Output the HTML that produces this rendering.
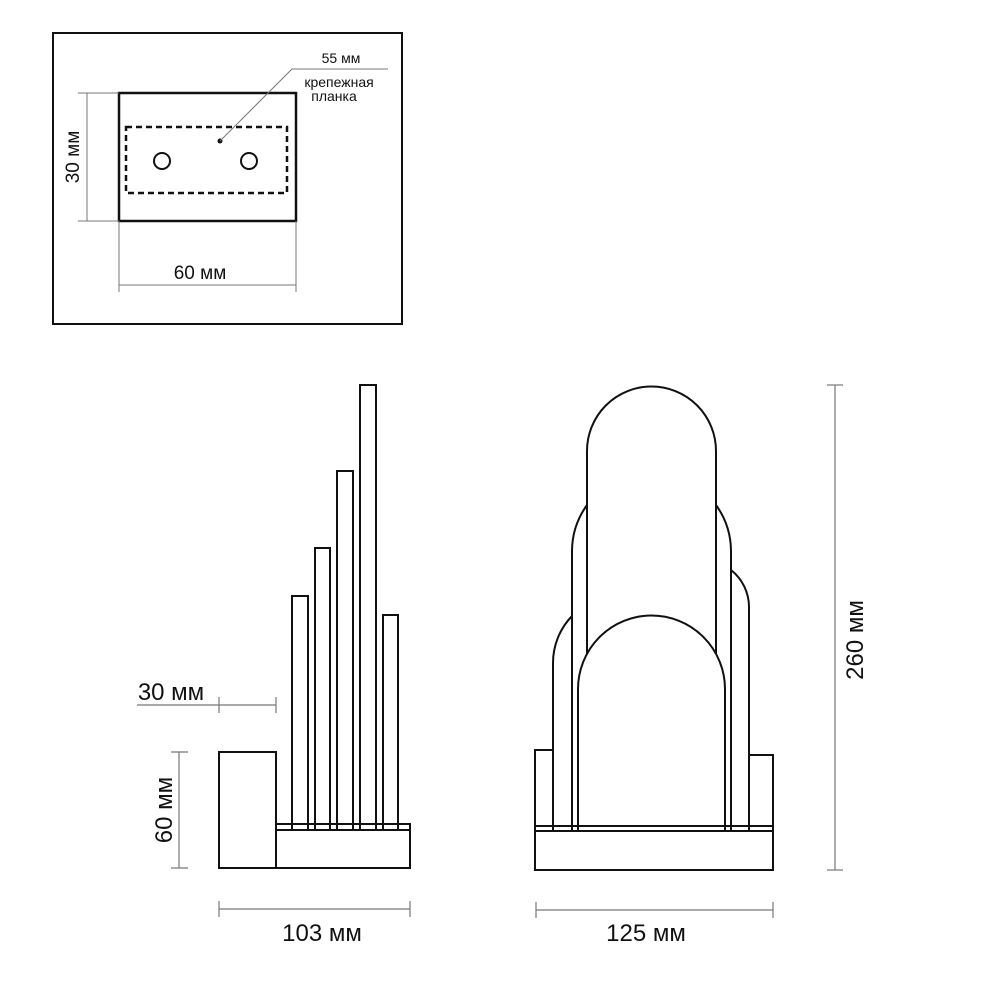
<!DOCTYPE html>
<html><head><meta charset="utf-8"><style>
html,body{margin:0;padding:0;background:#fff;}
svg{display:block;}
text{font-family:"Liberation Sans",sans-serif;fill:#111;}
</style></head><body>
<svg width="1000" height="1000" viewBox="0 0 1000 1000" xmlns="http://www.w3.org/2000/svg">
<g fill="none" stroke="#111" stroke-width="2">
<rect x="53" y="33" width="349" height="291"/>
<rect x="119" y="93" width="177" height="128" stroke-width="2.5"/>
<rect x="126" y="127" width="161" height="66" stroke-dasharray="6,4" stroke-width="2.5"/>
<circle cx="162" cy="161" r="8"/>
<circle cx="249" cy="161" r="8"/>
</g>
<circle cx="220" cy="141" r="2.5" fill="#111"/>
<g stroke="#777" stroke-width="1" fill="none">
<polyline points="220,141 292,69 388,69"/>
<line x1="87" y1="93" x2="87" y2="221"/>
<line x1="78" y1="93" x2="119" y2="93"/>
<line x1="78" y1="221" x2="119" y2="221"/>
<line x1="119" y1="221" x2="119" y2="292"/>
<line x1="296" y1="221" x2="296" y2="292"/>
<line x1="119" y1="285" x2="296" y2="285"/>
</g>
<text x="341" y="63" font-size="14" text-anchor="middle">55 мм</text>
<text x="339" y="87" font-size="14" text-anchor="middle">крепежная</text>
<text x="334" y="101" font-size="14" text-anchor="middle">планка</text>
<text x="200" y="279" font-size="19" text-anchor="middle">60 мм</text>
<text transform="translate(79,157) rotate(-90)" font-size="19" text-anchor="middle">30 мм</text>

<!-- side view -->
<g fill="none" stroke="#111" stroke-width="2">
<rect x="219" y="752" width="57" height="116"/>
<rect x="276" y="824" width="134" height="44"/>
<line x1="276" y1="830" x2="410" y2="830"/>
<rect x="292" y="596" width="16" height="234"/>
<rect x="315" y="548" width="15" height="282"/>
<rect x="337" y="471" width="16" height="359"/>
<rect x="360" y="385" width="16" height="445"/>
<rect x="383" y="615" width="15" height="215"/>
</g>
<g stroke="#777" stroke-width="1.2" fill="none">
<line x1="137" y1="705" x2="276" y2="705"/>
<line x1="219" y1="697" x2="219" y2="713"/>
<line x1="276" y1="697" x2="276" y2="713"/>
<line x1="179" y1="752" x2="179" y2="868"/>
<line x1="171" y1="752" x2="188" y2="752"/>
<line x1="171" y1="868" x2="188" y2="868"/>
<line x1="219" y1="909" x2="410" y2="909"/>
<line x1="219" y1="901" x2="219" y2="917"/>
<line x1="410" y1="901" x2="410" y2="917"/>
</g>
<text x="171" y="700" font-size="24" text-anchor="middle">30 мм</text>
<text transform="translate(172,810) rotate(-90)" font-size="24" text-anchor="middle">60 мм</text>
<text x="322" y="941" font-size="24" text-anchor="middle">103 мм</text>

<!-- front view -->
<g fill="none" stroke="#111" stroke-width="2">
<rect x="535" y="826" width="238" height="44"/>
<line x1="535" y1="831" x2="773" y2="831"/>
<polyline points="553,826 553,750 535,750 535,826"/>
<polyline points="749,826 749,755 773,755 773,826"/>
<path d="M553,831 L553,663 A67.6,67.6 0 0 1 572,616"/>
<path d="M749,831 L749,607 A47,47 0 0 0 731,570"/>
<path d="M572,831 L572,551 A79.5,79.5 0 0 1 587,505"/>
<path d="M731,831 L731,551 A79.5,79.5 0 0 0 716,505"/>
<path d="M587,654 L587,451 A64.5,64.5 0 0 1 716,451 L716,654"/>
<path d="M578,831 L578,689 A73.5,73.5 0 0 1 725,689 L725,831"/>
</g>
<g stroke="#777" stroke-width="1.2" fill="none">
<line x1="835" y1="385" x2="835" y2="870"/>
<line x1="827" y1="385" x2="843" y2="385"/>
<line x1="827" y1="870" x2="843" y2="870"/>
<line x1="536" y1="910" x2="773" y2="910"/>
<line x1="536" y1="902" x2="536" y2="918"/>
<line x1="773" y1="902" x2="773" y2="918"/>
</g>
<text transform="translate(863,640) rotate(-90)" font-size="24" text-anchor="middle">260 мм</text>
<text x="646" y="941" font-size="24" text-anchor="middle">125 мм</text>
</svg>
</body></html>
